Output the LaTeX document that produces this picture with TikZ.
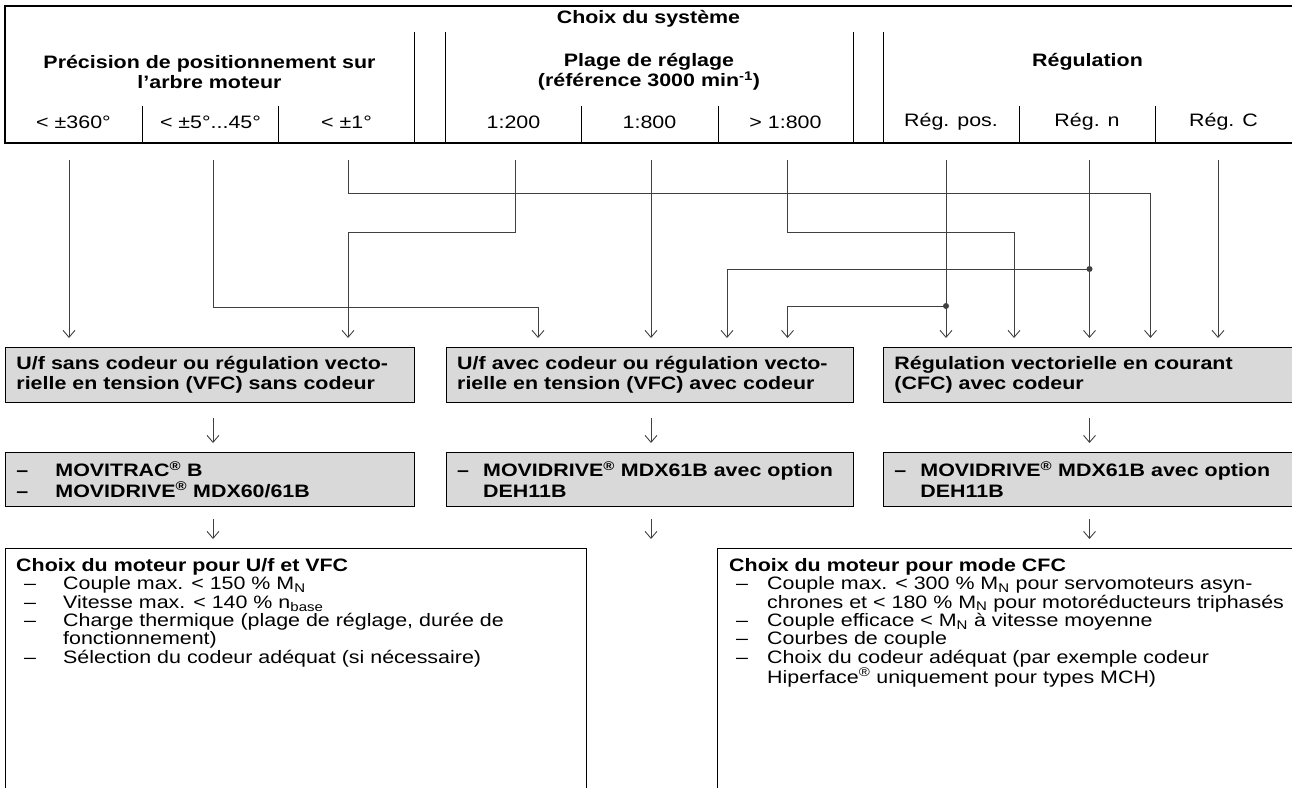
\documentclass[tikz,border=0pt]{standalone}
\usepackage{fontspec}
\setmainfont{Liberation Sans}[FakeStretch=1.19]
\usetikzlibrary{arrows.meta,positioning}
\begin{document}
\begin{tikzpicture}[x=1pt,y=-1pt,font=\fontsize{18}{20}\selectfont,
 frame/.style={line width=1.1pt},
 sep/.style={line width=0.9pt},
 hd/.style={font=\fontsize{18}{20}\selectfont\bfseries,align=center,inner sep=0pt},
 val/.style={inner sep=0pt},
 conn/.style={draw=black!75,line width=0.9pt,-{Straight Barb[length=7pt,width=12pt]},shorten >=9pt},
 gbox/.style={draw,line width=0.9pt,fill=gray!30,anchor=north west,inner xsep=11pt,align=left,font=\fontsize{18}{20.5}\selectfont\bfseries},
 wbox/.style={draw,line width=0.9pt,anchor=north west,minimum height=260pt},
 btext/.style={anchor=north west,inner sep=0pt,align=left,font=\fontsize{18}{18.4}\selectfont},
 dot/.style={fill=black!75}]
\useasboundingbox (0,0) rectangle (1292,787);
% header
\draw[frame] (1293,6) -- (5,6) -- (5,143) -- (1293,143);
\foreach \x in {414.5,445.5,853,883} \draw[sep] (\x,32) -- (\x,143);
\foreach \x in {142.5,278.5,581.5,718,1019,1155.5} \draw[sep] (\x,106) -- (\x,143);
\node[hd] (title) at (648.5,19) {Choix du système};
\node[hd] (grpPos) at (209.5,72) {Précision de positionnement sur\\l’arbre moteur};
\node[hd] (grpPlage) at (649,72) {Plage de réglage\\(référence 3000 min\textsuperscript{-1})};
\node[hd] (grpReg) at (1087.5,62) {Régulation};
\foreach \n/\x/\t in {pos1/73.5/{< ±360°},pos2/210.5/{< ±5°...45°},pos3/346.5/{< ±1°},
  plage1/513.5/{1:200},plage2/649.5/{1:800},plage3/785.5/{> 1:800},
  reg1/951/{Rég. pos.},reg2/1087/{Rég. n},reg3/1223.5/{Rég. C}}
  \node[val] (\n) at (\x,122) {\t};
% boxes
\node[gbox,minimum width=409pt,minimum height=55pt,text width=387pt] (sys1) at (5,347) {U/f sans codeur ou régulation vecto-\\rielle en tension (VFC) sans codeur};
\node[gbox,minimum width=407.5pt,minimum height=55pt,text width=385pt] (sys2) at (445.5,347) {U/f avec codeur ou régulation vecto-\\rielle en tension (VFC) avec codeur};
\node[gbox,minimum width=410pt,minimum height=55pt,text width=388pt] (sys3) at (883,347) {Régulation vectorielle en courant\\(CFC) avec codeur};
\node[gbox,minimum width=409pt,minimum height=54pt,text width=387pt] (dev1) at (5,452) {\makebox[39pt][l]{–}MOVITRAC\textsuperscript{®} B\\\makebox[39pt][l]{–}MOVIDRIVE\textsuperscript{®} MDX60/61B};
\node[gbox,minimum width=407.5pt,minimum height=54pt,text width=385pt] (dev2) at (445.5,452) {\makebox[26pt][l]{–}MOVIDRIVE\textsuperscript{®} MDX61B avec option\\\hspace*{26pt}DEH11B};
\node[gbox,minimum width=410pt,minimum height=54pt,text width=388pt] (dev3) at (883,452) {\makebox[26pt][l]{–}MOVIDRIVE\textsuperscript{®} MDX61B avec option\\\hspace*{26pt}DEH11B};
\node[wbox,minimum width=581pt] (mot1) at (5,548) {};
\node[wbox,minimum width=577pt] (mot2) at (717,548) {};
\node[btext] (mot1t) at ([xshift=11pt,yshift=-10pt]mot1.north west) {\textbf{Choix du moteur pour U/f et VFC}\\
 \hspace*{8pt}\makebox[39pt][l]{–}Couple max. < 150 \% M\textsubscript{N}\\
 \hspace*{8pt}\makebox[39pt][l]{–}Vitesse max. < 140 \% n\textsubscript{base}\\
 \hspace*{8pt}\makebox[39pt][l]{–}Charge thermique (plage de réglage, durée de\\
 \hspace*{47pt}fonctionnement)\\
 \hspace*{8pt}\makebox[39pt][l]{–}Sélection du codeur adéquat (si nécessaire)};
\node[btext] (mot2t) at ([xshift=12pt,yshift=-10pt]mot2.north west) {\textbf{Choix du moteur pour mode CFC}\\
 \hspace*{7pt}\makebox[31pt][l]{–}Couple max. < 300 \% M\textsubscript{N} pour servomoteurs asyn-\\
 \hspace*{38pt}chrones et < 180 \% M\textsubscript{N} pour motoréducteurs triphasés\\
 \hspace*{7pt}\makebox[31pt][l]{–}Couple efficace < M\textsubscript{N} à vitesse moyenne\\
 \hspace*{7pt}\makebox[31pt][l]{–}Courbes de couple\\
 \hspace*{7pt}\makebox[31pt][l]{–}Choix du codeur adéquat (par exemple codeur\\
 \hspace*{38pt}Hiperface\textsuperscript{®} uniquement pour types MCH)};
% connectors
\coordinate (a1) at (69,160);\coordinate (a2) at (213,160);\coordinate (a3) at (348,160);
\coordinate (a4) at (515,160);\coordinate (a5) at (651,160);\coordinate (a6) at (787.5,160);
\coordinate (a7) at (946,160);\coordinate (a8) at (1089.5,160);\coordinate (a9) at (1218,160);
\coordinate (j2) at (538,307);\coordinate (j3) at (1150.5,193);\coordinate (j4) at (348,232);
\coordinate (j6) at (1014,232);\coordinate (d7) at (946,306);\coordinate (d8) at (1089.5,269);
\coordinate (k8) at (727,269);
\draw[conn] (a1) -- (a1 |- sys1.north);
\draw[conn] (a2) |- (j2) -- (j2 |- sys2.north);
\draw[conn] (a3) |- (j3) -- (j3 |- sys3.north);
\draw[conn] (a4) |- (j4) -- (j4 |- sys1.north);
\draw[conn] (a5) -- (a5 |- sys2.north);
\draw[conn] (a6) |- (j6) -- (j6 |- sys3.north);
\draw[conn] (a7) -- (a7 |- sys3.north);
\draw[conn] (d7) -| (a6 |- sys2.north);
\draw[conn] (a8) -- (a8 |- sys3.north);
\draw[conn] (d8) -- (k8) -- (k8 |- sys2.north);
\draw[conn] (a9) -- (a9 |- sys3.north);
\fill[dot] (d7) circle (3pt) (d8) circle (3pt);
\draw[conn,shorten <=15pt] (sys1.south -| a2) -- (dev1.north -| a2);
\draw[conn,shorten <=15pt] (sys2.south -| a5) -- (dev2.north -| a5);
\draw[conn,shorten <=15pt] (sys3.south -| a8) -- (dev3.north -| a8);
\draw[conn,shorten <=12pt] (dev1.south -| a2) -- (mot1.north -| a2);
\draw[conn,shorten <=12pt] (dev2.south -| a5) -- (mot1.north -| a5);
\draw[conn,shorten <=12pt] (dev3.south -| a8) -- (mot2.north -| a8);
\end{tikzpicture}
\end{document}
